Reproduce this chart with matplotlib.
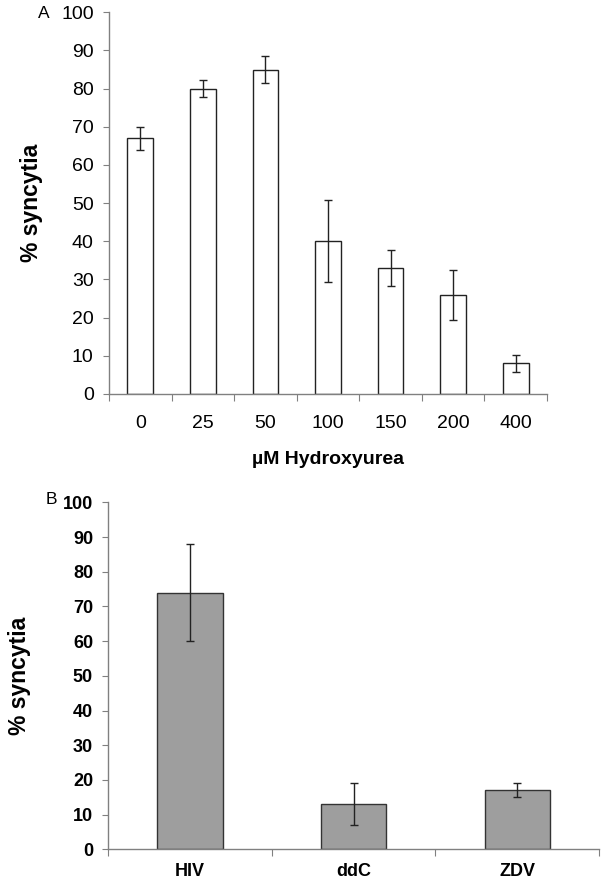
import numpy as np
import matplotlib.pyplot as plt

plt.rcParams['font.family'] = ['Liberation Sans', 'DejaVu Sans']

# panel A - hydroxyurea dose
doses = ['0', '25', '50', '100', '150', '200', '400']
syncytia_a = [67, 80, 85, 40, 33, 26, 8]
err_a = [3.0, 2.2, 3.5, 10.7, 4.6, 6.5, 2.3]

# panel B - drugs
drugs = ['HIV', 'ddC', 'ZDV']
syncytia_b = [74, 13, 17]
err_b = [14, 6, 2]

yticks = np.arange(0, 101, 10)
axis_col = '#808080'

fig = plt.figure(figsize=(6.03, 8.82), dpi=100)
axA = fig.add_axes([109 / 603, 1 - 394 / 882, 438 / 603, 381.7 / 882])
axB = fig.add_axes([108.3 / 603, 1 - 849.3 / 882, 490.7 / 603, 347 / 882])


def style_axis(ax, n, labels, bold, fs):
    ax.set_xlim(-0.5, n - 0.5)
    ax.set_ylim(0, 100)
    for s in ['top', 'right']:
        ax.spines[s].set_visible(False)
    for s in ['left', 'bottom']:
        ax.spines[s].set_color(axis_col)
        ax.spines[s].set_linewidth(1.0)
    ax.set_xticks(np.arange(-0.5, n, 1))
    ax.set_xticklabels([])
    ax.set_xticks(np.arange(n), minor=True)
    w = 'bold' if bold else 'normal'
    ax.set_xticklabels(labels, minor=True, fontsize=fs, fontweight=w)
    ax.set_yticks(yticks)
    ax.set_yticklabels([str(v) for v in yticks], fontsize=fs, fontweight=w)
    ax.tick_params(axis='x', which='major', length=5, color=axis_col, direction='out')
    ax.tick_params(axis='y', length=4, color=axis_col, direction='out', pad=7)


# panel A
xa = np.arange(len(doses))
axA.bar(xa, syncytia_a, width=0.41, color='white', edgecolor='#222222', linewidth=1.0)
axA.errorbar(xa, syncytia_a, yerr=err_a, fmt='none', ecolor='#222222',
             elinewidth=1.0, capsize=3, capthick=1.0)
style_axis(axA, len(doses), doses, False, 14)
axA.tick_params(axis='x', which='minor', length=0, pad=15)
axA.set_xlabel('\u00b5M Hydroxyurea', fontsize=14, fontweight='bold', labelpad=14)
axA.set_ylabel('% syncytia', fontsize=16.5, fontweight='bold', labelpad=13)
fig.text(38 / 603, 1 - 13 / 882, 'A', fontsize=12.5, ha='left', va='center')

# panel B
xb = np.arange(len(drugs))
axB.bar(xb, syncytia_b, width=0.40, color='#9e9e9e', edgecolor='#333333', linewidth=1.0)
axB.errorbar(xb, syncytia_b, yerr=err_b, fmt='none', ecolor='#222222',
             elinewidth=1.0, capsize=3, capthick=1.0)
style_axis(axB, len(drugs), drugs, True, 13)
axB.tick_params(axis='x', which='minor', length=0, pad=10)
axB.set_ylabel('% syncytia', fontsize=16.5, fontweight='bold', labelpad=23)
fig.text(46 / 603, 1 - 500 / 882, 'B', fontsize=12.5, ha='left', va='center')

fig.savefig('out.png', dpi=100)
